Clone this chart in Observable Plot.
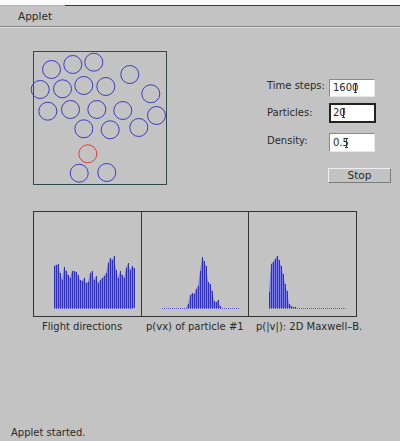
<!DOCTYPE html>
<html><head><meta charset="utf-8">
<script src="https://cdn.jsdelivr.net/npm/d3@7"></script>
<script src="https://cdn.jsdelivr.net/npm/@observablehq/plot@0.6"></script>
<style>
html,body{margin:0;padding:0;}
body{width:400px;height:441px;background:#c3c3c3;position:relative;overflow:hidden;font-family:"DejaVu Sans",sans-serif;font-size:10px;color:#2a2a2a;}
.a{position:absolute;}
.field{position:absolute;background:#fff;box-sizing:border-box;border-top:1px solid #8a8a8a;border-left:1px solid #8a8a8a;border-bottom:1px solid #e8e8e8;border-right:1px solid #e8e8e8;padding-left:3px;white-space:nowrap;}
.focus{border:2px solid #222;padding-left:2px;}
.caret{display:inline-block;position:relative;width:1px;height:10px;background:#333;margin-left:-3px;vertical-align:-2px;}
.caret:before,.caret:after{content:"";position:absolute;left:-1px;width:3px;height:1px;background:#333;}
.caret:before{top:0}.caret:after{bottom:0}
.lbl{position:absolute;white-space:nowrap;}
svg{overflow:visible;}
</style></head><body>
<div class="a" style="left:0;top:0;width:400px;height:6px;background:#fafafa"></div>
<div class="a" style="left:0;top:5px;width:65px;height:1px;background:#b0b0b0"></div>
<div class="a" style="left:65px;top:5px;width:335px;height:1px;background:#3a3a3a"></div>
<div class="lbl" style="left:18px;top:10px;font-size:10.5px">Applet</div>
<div class="a" style="left:0;top:26px;width:400px;height:1px;background:#8a8a8a"></div>
<div class="a" style="left:0;top:27px;width:400px;height:1px;background:#dedede"></div>

<div id="box" class="a" style="left:33px;top:51px;width:134px;height:134px;box-sizing:border-box;border:1px solid #2f4a4a"></div>
<div id="parts" class="a" style="left:33px;top:51px"></div>

<div class="lbl" style="left:267px;top:80px">Time steps:</div>
<div class="lbl" style="left:267px;top:107px">Particles:</div>
<div class="lbl" style="left:267px;top:135px">Density:</div>
<div class="field" style="left:329px;top:79px;width:46px;height:18px;line-height:16px">1600<span class="caret"></span></div>
<div class="field focus" style="left:329px;top:103px;width:47px;height:20px;line-height:16px">20<span class="caret"></span></div>
<div class="field" style="left:329px;top:133px;width:46px;height:19px;line-height:17px">0.5<span class="caret"></span></div>
<div class="a" style="left:328px;top:168px;width:63px;height:15px;box-sizing:border-box;border-top:1px solid #efefef;border-left:1px solid #efefef;border-bottom:1px solid #7a7a7a;border-right:1px solid #7a7a7a;text-align:center;line-height:13px;font-size:10.5px">Stop</div>

<div class="a" style="left:33px;top:211px;width:324px;height:106px;box-sizing:border-box;border:1px solid #333"></div>
<div class="a" style="left:141px;top:211px;width:1px;height:106px;background:#333"></div>
<div class="a" style="left:248px;top:211px;width:1px;height:106px;background:#333"></div>
<div id="h1" class="a" style="left:34px;top:212px"></div>
<div id="h2" class="a" style="left:142px;top:212px"></div>
<div id="h3" class="a" style="left:249px;top:212px"></div>
<div class="lbl" style="left:42px;top:321px">Flight directions</div>
<div class="lbl" style="left:146px;top:321px">p(vx) of particle #1</div>
<div class="lbl" style="left:256px;top:321px">p(|v|): 2D Maxwell–B.</div>

<div class="lbl" style="left:11px;top:427px">Applet started.</div>

<script>
// Particle positions (box units, origin top-left); first particle is the tracked one (#1)
const particleX = [54.3, 18, 39.3, 60.3, 96.3, 6.7, 29, 50.3, 72.3, 117.3, 14.3, 37, 63.3, 89.3, 123, 50.3, 76.7, 105.3, 45.7, 73.3];
const particleY = [102.3, 18, 13, 10.7, 23, 38, 37.3, 34, 35, 42.3, 59.7, 58, 58, 59, 64, 77.3, 78.3, 76, 121.7, 121];
const boxSize = 134;

// Histogram counts
const flightDirections = [42,43,44,35,28,41,37,33,30,37,37,36,33,28,27,30,25,26,35,37,28,32,25,28,30,32,35,45,50,48,52,38,30,37,33,30,40,45,38,42,40];
const vxParticle1 = [0,0,0,0,0,0,0,0,0,0,0,0,0,4,13,15,14,19,22,37,51,47,42,26,24,17,7,6,8,2,0,0,0,0,0,0,0,0,0,0];
const speedMaxwell = [16,44,46,49,52,48,42,34,24,17,4,2,1,1,0,0,0,0,0,0,0,0,0,0,0,0,0,0,0,0,0,0,0,0,0,0,0,0,0,0];

const particles = particleX.map((x, i) => ({x, y: particleY[i], tracked: i === 0}));

document.getElementById("parts").append(Plot.plot({
  width: boxSize, height: boxSize,
  margin: 0,
  x: {domain: [0, boxSize], axis: null},
  y: {domain: [0, boxSize], reverse: true, axis: null},
  style: {background: "transparent", overflow: "visible"},
  marks: [
    Plot.dot(particles, {x: "x", y: "y", r: 9, strokeWidth: 1,
      stroke: d => d.tracked ? "#e03a3a" : "#3a3ac8", fill: "none"})
  ]
}));

function hist(el, counts, width, ml, mr) {
  const n = counts.length;
  document.getElementById(el).append(Plot.plot({
    width, height: 104,
    marginTop: 0, marginBottom: 8, marginLeft: ml, marginRight: mr,
    x: {domain: [0, n - 1], axis: null},
    y: {domain: [0, 96], axis: null},
    style: {background: "transparent", overflow: "visible"},
    marks: [
      Plot.ruleY([0], {stroke: "#5a5ad8", strokeDasharray: "1,1"}),
      Plot.areaY(counts, {x: (d, i) => i, y: d => d, fill: "#8080ec"}),
      Plot.ruleX(counts, {x: (d, i) => i, y1: 0, y2: d => d, stroke: "#3030b4", strokeWidth: 1})
    ]
  }));
}
hist("h1", flightDirections, 107, 20, 7);
hist("h2", vxParticle1, 106, 20, 8);
hist("h3", speedMaxwell, 107, 20, 9);
</script>
</body></html>
